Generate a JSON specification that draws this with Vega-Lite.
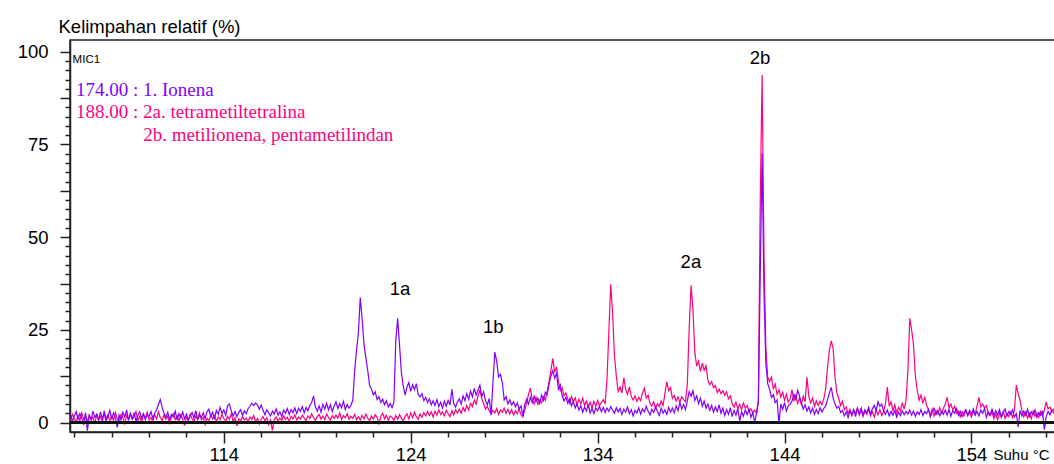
{
"$schema": "https://vega.github.io/schema/vega-lite/v6.json",
"width": 985, "height": 392,
"autosize": {"type": "none"},
"padding": {"left": 70, "top": 40, "right": 0, "bottom": 32},
"background": "white",
"config": {"view": {"stroke": "#222", "strokeWidth": 1.5}, "font": "Liberation Sans"},
"data": {"values": [
{"t":105.8,"p":2.1,"m":0.6},{"t":105.9,"p":0.4,"m":2.3},{"t":106.0,"p":1.8,"m":1.0},{"t":106.1,"p":3.0,"m":0.2},{"t":106.2,"p":0.9,"m":1.9},{"t":106.3,"p":2.4,"m":0.5},{"t":106.4,"p":1.2,"m":2.6},{"t":106.5,"p":-0.6,"m":0.9},{"t":106.6,"p":2.7,"m":1.7},{"t":106.7,"p":-2.2,"m":0.3},{"t":106.8,"p":1.9,"m":2.0},{"t":106.9,"p":0.8,"m":0.7},
{"t":107.0,"p":3.1,"m":1.5},{"t":107.1,"p":1.4,"m":-0.4},{"t":107.2,"p":2.2,"m":2.4},{"t":107.3,"p":0.5,"m":0.8},{"t":107.4,"p":2.9,"m":1.6},{"t":107.5,"p":1.1,"m":0.1},{"t":107.6,"p":2.5,"m":3.2},{"t":107.7,"p":0.3,"m":1.0},{"t":107.8,"p":1.7,"m":2.1},{"t":107.9,"p":3.3,"m":0.4},
{"t":108.0,"p":0.9,"m":1.8},{"t":108.1,"p":2.6,"m":0.6},{"t":108.2,"p":1.3,"m":2.7},{"t":108.3,"p":-1.3,"m":1.1},{"t":108.4,"p":2.0,"m":0.2},{"t":108.5,"p":0.7,"m":2.2},{"t":108.6,"p":2.8,"m":1.4},{"t":108.7,"p":1.5,"m":-0.3},{"t":108.8,"p":3.4,"m":1.9},{"t":108.9,"p":0.6,"m":0.8},
{"t":109.0,"p":2.3,"m":2.5},{"t":109.1,"p":1.0,"m":0.9},{"t":109.2,"p":2.7,"m":1.6},{"t":109.3,"p":0.4,"m":3.0},{"t":109.4,"p":1.9,"m":0.5},{"t":109.5,"p":2.9,"m":1.7},{"t":109.6,"p":1.2,"m":0.1},{"t":109.7,"p":2.4,"m":2.3},{"t":109.8,"p":0.8,"m":1.2},{"t":109.9,"p":2.1,"m":2.8},
{"t":110.0,"p":1.6,"m":0.7},{"t":110.1,"p":3.0,"m":1.4},{"t":110.2,"p":1.1,"m":0.3},{"t":110.3,"p":2.5,"m":2.2},{"t":110.4,"p":3.4,"m":1.0},{"t":110.5,"p":4.8,"m":2.9},{"t":110.6,"p":6.2,"m":1.3},{"t":110.7,"p":4.1,"m":0.6},{"t":110.8,"p":2.6,"m":2.0},{"t":110.9,"p":1.4,"m":0.9},
{"t":111.0,"p":2.8,"m":1.7},{"t":111.1,"p":0.9,"m":-0.2},{"t":111.2,"p":2.2,"m":1.5},{"t":111.3,"p":1.5,"m":2.4},{"t":111.4,"p":3.1,"m":0.8},{"t":111.5,"p":0.7,"m":1.9},{"t":111.6,"p":2.4,"m":0.4},{"t":111.7,"p":1.3,"m":2.1},{"t":111.8,"p":2.9,"m":1.0},{"t":111.9,"p":1.0,"m":-0.8},
{"t":112.0,"p":2.3,"m":1.6},{"t":112.1,"p":0.6,"m":0.5},{"t":112.2,"p":1.8,"m":2.3},{"t":112.3,"p":2.7,"m":1.1},{"t":112.4,"p":1.2,"m":0.2},{"t":112.5,"p":3.2,"m":1.8},{"t":112.6,"p":0.8,"m":0.9},{"t":112.7,"p":2.0,"m":2.6},{"t":112.8,"p":1.4,"m":0.7},{"t":112.9,"p":2.6,"m":1.4},
{"t":113.0,"p":1.1,"m":-0.5},{"t":113.1,"p":2.9,"m":1.2},{"t":113.2,"p":3.6,"m":0.6},{"t":113.3,"p":1.7,"m":2.0},{"t":113.4,"p":2.8,"m":1.0},{"t":113.5,"p":0.9,"m":1.9},{"t":113.6,"p":3.3,"m":0.3},{"t":113.7,"p":2.2,"m":1.5},{"t":113.8,"p":4.1,"m":0.8},{"t":113.9,"p":2.5,"m":2.2},
{"t":114.0,"p":3.4,"m":1.1},{"t":114.1,"p":2.0,"m":0.4},{"t":114.2,"p":4.6,"m":1.7},{"t":114.3,"p":5.0,"m":0.9},{"t":114.4,"p":3.1,"m":2.4},{"t":114.5,"p":1.8,"m":0.2},{"t":114.6,"p":3.0,"m":1.3},{"t":114.7,"p":1.6,"m":-0.9},{"t":114.8,"p":2.7,"m":1.0},{"t":114.9,"p":3.5,"m":0.5},
{"t":115.0,"p":1.9,"m":1.6},{"t":115.1,"p":3.2,"m":0.7},{"t":115.2,"p":2.4,"m":1.2},{"t":115.3,"p":3.8,"m":0.3},{"t":115.4,"p":4.4,"m":1.5},{"t":115.5,"p":5.2,"m":0.8},{"t":115.6,"p":4.6,"m":1.9},{"t":115.7,"p":5.3,"m":0.2},{"t":115.8,"p":4.8,"m":1.1},{"t":115.9,"p":3.6,"m":-0.4},
{"t":116.0,"p":4.7,"m":0.9},{"t":116.1,"p":3.3,"m":1.6},{"t":116.2,"p":2.1,"m":0.5},{"t":116.3,"p":3.5,"m":1.3},{"t":116.4,"p":2.6,"m":-0.6},{"t":116.5,"p":1.8,"m":0.7},{"t":116.6,"p":3.1,"m":-2.1},{"t":116.7,"p":2.3,"m":0.8},{"t":116.8,"p":3.7,"m":1.5},{"t":116.9,"p":2.0,"m":0.4},
{"t":117.0,"p":2.9,"m":1.2},{"t":117.1,"p":1.6,"m":0.6},{"t":117.2,"p":3.4,"m":1.8},{"t":117.3,"p":2.5,"m":0.9},{"t":117.4,"p":3.8,"m":1.4},{"t":117.5,"p":2.2,"m":0.3},{"t":117.6,"p":3.5,"m":1.7},{"t":117.7,"p":2.7,"m":1.0},{"t":117.8,"p":4.0,"m":2.1},{"t":117.9,"p":2.4,"m":0.7},
{"t":118.0,"p":3.9,"m":1.5},{"t":118.1,"p":3.0,"m":0.9},{"t":118.2,"p":4.3,"m":2.0},{"t":118.3,"p":2.6,"m":1.2},{"t":118.4,"p":4.1,"m":0.5},{"t":118.5,"p":3.2,"m":1.8},{"t":118.6,"p":4.6,"m":1.1},{"t":118.7,"p":5.4,"m":2.4},{"t":118.8,"p":7.2,"m":1.3},{"t":118.9,"p":4.2,"m":0.6},
{"t":119.0,"p":3.1,"m":1.6},{"t":119.1,"p":4.5,"m":2.2},{"t":119.2,"p":2.8,"m":0.9},{"t":119.3,"p":4.9,"m":1.7},{"t":119.4,"p":3.6,"m":0.8},{"t":119.5,"p":5.2,"m":2.3},{"t":119.6,"p":3.4,"m":1.4},{"t":119.7,"p":4.8,"m":0.7},{"t":119.8,"p":3.0,"m":1.9},{"t":119.9,"p":4.4,"m":1.1},
{"t":120.0,"p":5.6,"m":2.0},{"t":120.1,"p":3.8,"m":1.2},{"t":120.2,"p":5.1,"m":2.6},{"t":120.3,"p":4.0,"m":0.8},{"t":120.4,"p":5.7,"m":1.9},{"t":120.5,"p":3.5,"m":1.3},{"t":120.6,"p":4.9,"m":2.4},{"t":120.7,"p":3.9,"m":0.9},{"t":120.8,"p":4.6,"m":1.7},{"t":120.9,"p":6.0,"m":1.1},
{"t":121.0,"p":14.0,"m":2.2},{"t":121.1,"p":19.5,"m":0.8},{"t":121.2,"p":24.0,"m":1.6},{"t":121.3,"p":33.7,"m":0.7},{"t":121.4,"p":28.0,"m":1.9},{"t":121.5,"p":21.0,"m":1.0},{"t":121.6,"p":17.5,"m":2.3},{"t":121.7,"p":14.0,"m":1.2},{"t":121.8,"p":10.0,"m":0.5},{"t":121.9,"p":9.0,"m":1.8},
{"t":122.0,"p":7.5,"m":0.9},{"t":122.1,"p":8.3,"m":2.1},{"t":122.2,"p":6.2,"m":1.4},{"t":122.3,"p":7.0,"m":-0.3},{"t":122.4,"p":5.4,"m":1.7},{"t":122.5,"p":6.3,"m":2.5},{"t":122.6,"p":4.8,"m":1.0},{"t":122.7,"p":5.9,"m":2.0},{"t":122.8,"p":4.2,"m":0.6},{"t":122.9,"p":5.1,"m":1.8},
{"t":123.0,"p":4.0,"m":1.4},{"t":123.1,"p":5.5,"m":0.6},{"t":123.2,"p":22.0,"m":1.9},{"t":123.3,"p":28.1,"m":0.9},{"t":123.4,"p":21.0,"m":2.2},{"t":123.5,"p":13.5,"m":1.2},{"t":123.6,"p":9.8,"m":0.4},{"t":123.7,"p":7.4,"m":1.7},{"t":123.8,"p":9.6,"m":2.4},{"t":123.9,"p":10.8,"m":1.0},
{"t":124.0,"p":8.4,"m":2.6},{"t":124.1,"p":10.2,"m":1.3},{"t":124.2,"p":8.9,"m":2.8},{"t":124.3,"p":10.5,"m":1.6},{"t":124.4,"p":7.6,"m":0.9},{"t":124.5,"p":6.9,"m":2.3},{"t":124.6,"p":7.8,"m":1.4},{"t":124.7,"p":5.9,"m":2.7},{"t":124.8,"p":6.8,"m":1.8},{"t":124.9,"p":5.4,"m":3.0},
{"t":125.0,"p":6.4,"m":1.9},{"t":125.1,"p":4.8,"m":2.9},{"t":125.2,"p":5.9,"m":1.5},{"t":125.3,"p":4.6,"m":3.1},{"t":125.4,"p":6.2,"m":2.0},{"t":125.5,"p":4.3,"m":3.4},{"t":125.6,"p":5.5,"m":2.2},{"t":125.7,"p":3.9,"m":2.9},{"t":125.8,"p":5.8,"m":1.8},{"t":125.9,"p":4.4,"m":3.3},
{"t":126.0,"p":6.0,"m":2.4},{"t":126.1,"p":4.7,"m":1.6},{"t":126.2,"p":9.0,"m":3.2},{"t":126.3,"p":5.1,"m":2.1},{"t":126.4,"p":4.2,"m":3.5},{"t":126.5,"p":5.6,"m":2.6},{"t":126.6,"p":6.4,"m":3.6},{"t":126.7,"p":5.0,"m":2.5},{"t":126.8,"p":7.2,"m":4.1},{"t":126.9,"p":5.9,"m":3.0},
{"t":127.0,"p":7.8,"m":4.6},{"t":127.1,"p":6.3,"m":3.4},{"t":127.2,"p":8.5,"m":5.2},{"t":127.3,"p":6.9,"m":4.3},{"t":127.4,"p":9.2,"m":6.1},{"t":127.5,"p":7.4,"m":5.0},{"t":127.6,"p":8.8,"m":7.2},{"t":127.7,"p":10.1,"m":8.9},{"t":127.8,"p":7.0,"m":6.4},{"t":127.9,"p":8.3,"m":5.1},
{"t":128.0,"p":5.9,"m":3.6},{"t":128.1,"p":4.8,"m":4.4},{"t":128.2,"p":6.5,"m":3.1},{"t":128.3,"p":2.0,"m":2.4},{"t":128.4,"p":11.0,"m":3.3},{"t":128.5,"p":19.0,"m":2.6},{"t":128.6,"p":16.5,"m":3.8},{"t":128.7,"p":12.3,"m":2.2},{"t":128.8,"p":13.0,"m":3.4},{"t":128.9,"p":10.8,"m":2.8},
{"t":129.0,"p":6.1,"m":3.9},{"t":129.1,"p":7.0,"m":2.5},{"t":129.2,"p":5.0,"m":3.6},{"t":129.3,"p":6.1,"m":2.3},{"t":129.4,"p":4.7,"m":3.5},{"t":129.5,"p":5.6,"m":2.0},{"t":129.6,"p":4.2,"m":3.2},{"t":129.7,"p":5.3,"m":2.4},{"t":129.8,"p":3.6,"m":3.7},{"t":129.9,"p":4.5,"m":2.1},
{"t":130.0,"p":1.8,"m":1.5},{"t":130.1,"p":4.9,"m":3.4},{"t":130.2,"p":6.3,"m":5.2},{"t":130.3,"p":5.0,"m":7.6},{"t":130.4,"p":6.8,"m":9.3},{"t":130.5,"p":5.4,"m":6.2},{"t":130.6,"p":7.1,"m":5.0},{"t":130.7,"p":5.7,"m":6.8},{"t":130.8,"p":6.6,"m":4.9},{"t":130.9,"p":5.2,"m":6.1},
{"t":131.0,"p":7.4,"m":5.3},{"t":131.1,"p":6.0,"m":7.0},{"t":131.2,"p":8.2,"m":6.0},{"t":131.3,"p":7.5,"m":8.4},{"t":131.4,"p":10.5,"m":11.0},{"t":131.5,"p":12.5,"m":14.0},{"t":131.6,"p":14.0,"m":17.3},{"t":131.7,"p":12.0,"m":13.5},{"t":131.8,"p":13.2,"m":15.0},{"t":131.9,"p":9.0,"m":11.2},
{"t":132.0,"p":10.2,"m":8.6},{"t":132.1,"p":7.3,"m":9.4},{"t":132.2,"p":5.8,"m":7.2},{"t":132.3,"p":6.8,"m":8.0},{"t":132.4,"p":5.2,"m":6.4},{"t":132.5,"p":6.4,"m":5.1},{"t":132.6,"p":4.5,"m":7.0},{"t":132.7,"p":5.7,"m":5.6},{"t":132.8,"p":3.9,"m":6.7},{"t":132.9,"p":5.0,"m":4.8},
{"t":133.0,"p":3.4,"m":6.3},{"t":133.1,"p":4.6,"m":5.0},{"t":133.2,"p":2.8,"m":6.6},{"t":133.3,"p":4.2,"m":4.6},{"t":133.4,"p":3.1,"m":5.8},{"t":133.5,"p":4.9,"m":4.2},{"t":133.6,"p":2.6,"m":5.5},{"t":133.7,"p":3.8,"m":4.0},{"t":133.8,"p":2.4,"m":5.7},{"t":133.9,"p":4.0,"m":4.4},
{"t":134.0,"p":3.2,"m":6.0},{"t":134.1,"p":4.4,"m":4.5},{"t":134.2,"p":2.9,"m":5.4},{"t":134.3,"p":4.1,"m":6.2},{"t":134.4,"p":2.7,"m":5.0},{"t":134.5,"p":3.9,"m":11.5},{"t":134.6,"p":3.0,"m":24.5},{"t":134.7,"p":4.3,"m":37.3},{"t":134.8,"p":3.4,"m":29.5},{"t":134.9,"p":2.5,"m":18.0},
{"t":135.0,"p":4.0,"m":12.6},{"t":135.1,"p":2.9,"m":8.4},{"t":135.2,"p":3.8,"m":9.6},{"t":135.3,"p":2.2,"m":8.0},{"t":135.4,"p":3.6,"m":12.1},{"t":135.5,"p":2.8,"m":8.9},{"t":135.6,"p":4.2,"m":7.6},{"t":135.7,"p":2.4,"m":9.6},{"t":135.8,"p":3.5,"m":7.0},{"t":135.9,"p":1.8,"m":6.1},
{"t":136.0,"p":3.3,"m":7.2},{"t":136.1,"p":2.6,"m":5.7},{"t":136.2,"p":4.0,"m":6.8},{"t":136.3,"p":2.3,"m":5.9},{"t":136.4,"p":3.7,"m":8.0},{"t":136.5,"p":2.9,"m":9.3},{"t":136.6,"p":4.4,"m":6.6},{"t":136.7,"p":3.1,"m":7.4},{"t":136.8,"p":2.0,"m":5.2},{"t":136.9,"p":3.6,"m":4.4},
{"t":137.0,"p":2.7,"m":5.6},{"t":137.1,"p":4.3,"m":3.9},{"t":137.2,"p":3.0,"m":5.1},{"t":137.3,"p":1.9,"m":4.3},{"t":137.4,"p":3.9,"m":5.9},{"t":137.5,"p":2.5,"m":4.6},{"t":137.6,"p":3.4,"m":7.8},{"t":137.7,"p":2.2,"m":11.0},{"t":137.8,"p":4.1,"m":8.6},{"t":137.9,"p":2.8,"m":9.4},
{"t":138.0,"p":3.9,"m":6.5},{"t":138.1,"p":2.6,"m":7.3},{"t":138.2,"p":4.5,"m":5.8},{"t":138.3,"p":3.2,"m":6.9},{"t":138.4,"p":5.4,"m":5.5},{"t":138.5,"p":3.7,"m":7.0},{"t":138.6,"p":4.9,"m":6.2},{"t":138.7,"p":3.5,"m":5.6},{"t":138.8,"p":5.9,"m":10.5},{"t":138.9,"p":8.3,"m":25.8},
{"t":139.0,"p":7.1,"m":37.0},{"t":139.1,"p":8.6,"m":30.5},{"t":139.2,"p":6.0,"m":19.0},{"t":139.3,"p":7.2,"m":15.2},{"t":139.4,"p":5.1,"m":16.6},{"t":139.5,"p":6.6,"m":13.8},{"t":139.6,"p":4.4,"m":16.0},{"t":139.7,"p":5.8,"m":14.1},{"t":139.8,"p":3.9,"m":15.3},{"t":139.9,"p":5.0,"m":11.4},
{"t":140.0,"p":3.3,"m":10.2},{"t":140.1,"p":4.6,"m":11.0},{"t":140.2,"p":2.8,"m":9.4},{"t":140.3,"p":4.2,"m":10.0},{"t":140.4,"p":3.0,"m":8.1},{"t":140.5,"p":4.8,"m":9.0},{"t":140.6,"p":2.5,"m":7.8},{"t":140.7,"p":3.9,"m":8.6},{"t":140.8,"p":1.9,"m":7.4},{"t":140.9,"p":3.5,"m":8.3},
{"t":141.0,"p":2.2,"m":6.4},{"t":141.1,"p":4.0,"m":7.2},{"t":141.2,"p":1.6,"m":5.1},{"t":141.3,"p":3.3,"m":4.2},{"t":141.4,"p":2.0,"m":5.5},{"t":141.5,"p":3.8,"m":3.8},{"t":141.6,"p":0.4,"m":4.9},{"t":141.7,"p":2.9,"m":3.5},{"t":141.8,"p":1.7,"m":5.3},{"t":141.9,"p":3.4,"m":3.9},
{"t":142.0,"p":2.1,"m":4.6},{"t":142.1,"p":3.6,"m":3.0},{"t":142.2,"p":1.4,"m":3.7},{"t":142.3,"p":2.7,"m":2.6},{"t":142.4,"p":0.1,"m":3.4},{"t":142.5,"p":2.5,"m":2.5},{"t":142.6,"p":5.5,"m":6.0},{"t":142.7,"p":40.0,"m":60.0},{"t":142.8,"p":72.6,"m":93.7},{"t":142.9,"p":35.0,"m":45.0},
{"t":143.0,"p":16.0,"m":20.0},{"t":143.1,"p":10.5,"m":12.3},{"t":143.2,"p":9.0,"m":11.0},{"t":143.3,"p":6.8,"m":12.3},{"t":143.4,"p":7.5,"m":9.0},{"t":143.5,"p":5.4,"m":10.4},{"t":143.6,"p":6.1,"m":7.6},{"t":143.7,"p":-0.2,"m":8.8},{"t":143.8,"p":5.0,"m":6.9},{"t":143.9,"p":3.6,"m":8.2},
{"t":144.0,"p":5.4,"m":6.0},{"t":144.1,"p":3.1,"m":7.7},{"t":144.2,"p":4.6,"m":5.5},{"t":144.3,"p":4.9,"m":6.4},{"t":144.4,"p":5.8,"m":8.9},{"t":144.5,"p":7.6,"m":5.8},{"t":144.6,"p":6.3,"m":7.3},{"t":144.7,"p":8.7,"m":5.2},{"t":144.8,"p":7.2,"m":6.6},{"t":144.9,"p":5.3,"m":4.9},
{"t":145.0,"p":3.6,"m":7.1},{"t":145.1,"p":4.8,"m":5.6},{"t":145.2,"p":3.1,"m":12.2},{"t":145.3,"p":4.2,"m":7.0},{"t":145.4,"p":2.6,"m":5.3},{"t":145.5,"p":3.9,"m":6.6},{"t":145.6,"p":2.2,"m":4.4},{"t":145.7,"p":3.5,"m":5.9},{"t":145.8,"p":2.4,"m":4.6},{"t":145.9,"p":4.0,"m":5.7},
{"t":146.0,"p":2.9,"m":4.8},{"t":146.1,"p":3.8,"m":6.4},{"t":146.2,"p":4.5,"m":9.0},{"t":146.3,"p":6.2,"m":15.0},{"t":146.4,"p":8.0,"m":19.5},{"t":146.5,"p":9.5,"m":22.0},{"t":146.6,"p":6.6,"m":20.0},{"t":146.7,"p":5.0,"m":12.3},{"t":146.8,"p":3.9,"m":8.0},{"t":146.9,"p":4.4,"m":6.5},
{"t":147.0,"p":2.7,"m":4.6},{"t":147.1,"p":3.3,"m":5.8},{"t":147.2,"p":1.8,"m":3.5},{"t":147.3,"p":2.9,"m":4.2},{"t":147.4,"p":1.4,"m":2.4},{"t":147.5,"p":3.1,"m":3.6},{"t":147.6,"p":2.2,"m":1.9},{"t":147.7,"p":3.6,"m":3.2},{"t":147.8,"p":1.6,"m":2.5},{"t":147.9,"p":3.8,"m":3.9},
{"t":148.0,"p":2.4,"m":2.0},{"t":148.1,"p":3.9,"m":3.4},{"t":148.2,"p":2.1,"m":1.6},{"t":148.3,"p":3.5,"m":3.0},{"t":148.4,"p":2.6,"m":2.2},{"t":148.5,"p":4.1,"m":3.7},{"t":148.6,"p":2.3,"m":1.8},{"t":148.7,"p":3.7,"m":2.9},{"t":148.8,"p":4.6,"m":1.5},{"t":148.9,"p":3.2,"m":3.3},
{"t":149.0,"p":5.6,"m":2.1},{"t":149.1,"p":4.4,"m":3.5},{"t":149.2,"p":5.0,"m":1.9},{"t":149.3,"p":3.1,"m":3.0},{"t":149.4,"p":2.2,"m":5.2},{"t":149.5,"p":3.4,"m":9.6},{"t":149.6,"p":1.8,"m":4.4},{"t":149.7,"p":3.0,"m":5.6},{"t":149.8,"p":2.0,"m":3.2},{"t":149.9,"p":3.3,"m":4.8},
{"t":150.0,"p":1.5,"m":2.6},{"t":150.1,"p":2.8,"m":4.1},{"t":150.2,"p":1.9,"m":3.0},{"t":150.3,"p":3.2,"m":5.4},{"t":150.4,"p":2.1,"m":3.6},{"t":150.5,"p":3.0,"m":6.0},{"t":150.6,"p":2.3,"m":14.0},{"t":150.7,"p":3.4,"m":28.1},{"t":150.8,"p":2.0,"m":25.0},{"t":150.9,"p":3.1,"m":21.0},
{"t":151.0,"p":1.7,"m":12.5},{"t":151.1,"p":2.9,"m":8.7},{"t":151.2,"p":2.2,"m":6.0},{"t":151.3,"p":3.5,"m":7.4},{"t":151.4,"p":1.9,"m":5.2},{"t":151.5,"p":3.0,"m":7.0},{"t":151.6,"p":2.4,"m":4.6},{"t":151.7,"p":3.6,"m":3.5},{"t":151.8,"p":1.5,"m":2.0},{"t":151.9,"p":2.8,"m":3.7},
{"t":152.0,"p":3.9,"m":1.8},{"t":152.1,"p":2.1,"m":3.2},{"t":152.2,"p":3.3,"m":2.3},{"t":152.3,"p":1.8,"m":4.0},{"t":152.4,"p":3.0,"m":2.6},{"t":152.5,"p":2.2,"m":3.8},{"t":152.6,"p":3.4,"m":5.0},{"t":152.7,"p":2.0,"m":6.8},{"t":152.8,"p":3.6,"m":4.0},{"t":152.9,"p":1.7,"m":5.0},
{"t":153.0,"p":3.2,"m":3.4},{"t":153.1,"p":2.5,"m":4.4},{"t":153.2,"p":3.8,"m":2.5},{"t":153.3,"p":2.0,"m":3.1},{"t":153.4,"p":3.1,"m":1.6},{"t":153.5,"p":1.6,"m":2.9},{"t":153.6,"p":2.7,"m":1.8},{"t":153.7,"p":3.5,"m":3.3},{"t":153.8,"p":1.9,"m":2.0},{"t":153.9,"p":3.3,"m":2.7},
{"t":154.0,"p":2.4,"m":1.5},{"t":154.1,"p":3.7,"m":3.0},{"t":154.2,"p":2.0,"m":2.2},{"t":154.3,"p":3.0,"m":4.5},{"t":154.4,"p":1.8,"m":6.8},{"t":154.5,"p":3.4,"m":4.2},{"t":154.6,"p":2.5,"m":5.0},{"t":154.7,"p":3.8,"m":3.9},{"t":154.8,"p":1.4,"m":4.6},{"t":154.9,"p":2.9,"m":2.4},
{"t":155.0,"p":2.1,"m":1.8},{"t":155.1,"p":3.6,"m":2.9},{"t":155.2,"p":1.9,"m":1.0},{"t":155.3,"p":3.2,"m":2.3},{"t":155.4,"p":2.0,"m":0.8},{"t":155.5,"p":3.5,"m":2.6},{"t":155.6,"p":1.6,"m":1.4},{"t":155.7,"p":2.8,"m":3.0},{"t":155.8,"p":3.7,"m":1.1},{"t":155.9,"p":1.8,"m":2.4},
{"t":156.0,"p":3.0,"m":1.6},{"t":156.1,"p":2.2,"m":2.9},{"t":156.2,"p":3.4,"m":1.3},{"t":156.3,"p":1.5,"m":3.5},{"t":156.4,"p":2.4,"m":10.1},{"t":156.5,"p":-1.2,"m":7.8},{"t":156.6,"p":3.3,"m":6.0},{"t":156.7,"p":1.8,"m":3.2},{"t":156.8,"p":3.1,"m":1.5},{"t":156.9,"p":2.0,"m":2.8},
{"t":157.0,"p":3.6,"m":1.2},{"t":157.1,"p":1.7,"m":2.5},{"t":157.2,"p":2.9,"m":1.0},{"t":157.3,"p":2.2,"m":3.1},{"t":157.4,"p":3.4,"m":1.7},{"t":157.5,"p":1.4,"m":2.6},{"t":157.6,"p":2.7,"m":1.4},{"t":157.7,"p":2.0,"m":3.0},{"t":157.8,"p":3.2,"m":1.8},{"t":157.9,"p":-1.9,"m":3.4},
{"t":158.0,"p":1.6,"m":5.6},{"t":158.1,"p":3.0,"m":3.7},{"t":158.2,"p":2.1,"m":4.2},{"t":158.3,"p":3.5,"m":2.9},{"t":158.4,"p":2.6,"m":3.6},{"t":158.5,"p":3.0,"m":2.2}
]},
"layer": [
{"mark": {"type": "line", "color": "#FF0080", "strokeWidth": 1.2, "clip": true},
 "encoding": {
  "x": {"field": "t", "type": "quantitative", "title": "Suhu °C",
   "scale": {"domain": [105.77, 158.47], "nice": false, "zero": false},
   "axis": {"values": [106,108,110,112,114,116,118,120,122,124,126,128,130,132,134,136,138,140,142,144,146,148,150,152,154,156,158],
    "tickCount": 200, "format": "d",
    "labelExpr": "(datum.value - 4) % 10 === 0 ? datum.label : ''",
    "tickSize": {"condition": {"test": "(datum.value - 4) % 10 === 0", "value": 11}, "value": 5},
    "labelFontSize": 18.5, "labelFont": "Liberation Sans", "labelColor": "#000", "labelPadding": 2,
    "labelFlush": false, "labelOverlap": false, "labelBound": false,
    "tickColor": "#222", "tickWidth": 1.5, "domainColor": "#222", "domainWidth": 1.5, "grid": false,
    "titleX": 923, "titleY": 22, "titleAlign": "left", "titleBaseline": "middle", "titleAnchor": "start",
    "titleFontSize": 15, "titleFont": "Liberation Sans", "titleFontWeight": "normal", "titleColor": "#000"}},
  "y": {"field": "m", "type": "quantitative", "title": "Kelimpahan relatif (%)",
   "scale": {"domain": [-2.54, 103.16], "nice": false, "zero": false},
   "axis": {"values": [0,2.5,5,7.5,10,12.5,15,17.5,20,22.5,25,27.5,30,32.5,35,37.5,40,42.5,45,47.5,50,52.5,55,57.5,60,62.5,65,67.5,70,72.5,75,77.5,80,82.5,85,87.5,90,92.5,95,97.5,100],
    "tickCount": 200, "format": "d",
    "labelExpr": "datum.value % 25 === 0 ? datum.label : ''",
    "tickSize": {"condition": {"test": "datum.value % 12.5 === 0", "value": 10}, "value": 5},
    "labelFontSize": 18.5, "labelFont": "Liberation Sans", "labelColor": "#000", "labelPadding": 12,
    "labelFlush": false, "labelOverlap": false, "labelBound": false,
    "tickColor": "#222", "tickWidth": 1.5, "domainColor": "#222", "domainWidth": 1.5, "grid": false,
    "titleAngle": 0, "titleX": -12, "titleY": -14, "titleAlign": "left", "titleBaseline": "middle", "titleAnchor": "start",
    "titleFontSize": 18.5, "titleFont": "Liberation Sans", "titleFontWeight": "normal", "titleColor": "#000"}}
 }},
{"mark": {"type": "line", "color": "#8000FF", "strokeWidth": 1.2, "clip": true},
 "encoding": {
  "x": {"field": "t", "type": "quantitative", "title": "Suhu °C"},
  "y": {"field": "p", "type": "quantitative", "title": "Kelimpahan relatif (%)"}
 }},
{"mark": {"type": "rule", "color": "#111", "strokeWidth": 1.5},
 "encoding": {"y": {"datum": 0}}},
{"data": {"values": [
  {"t": 123.43, "y": 35.9, "label": "1a"},
  {"t": 128.42, "y": 25.85, "label": "1b"},
  {"t": 138.99, "y": 43.3, "label": "2a"},
  {"t": 142.69, "y": 98.2, "label": "2b"}
 ]},
 "mark": {"type": "text", "font": "Liberation Sans", "fontSize": 18.5, "align": "center", "baseline": "middle", "color": "#000"},
 "encoding": {
  "x": {"field": "t", "type": "quantitative", "title": "Suhu °C"},
  "y": {"field": "y", "type": "quantitative", "title": "Kelimpahan relatif (%)"},
  "text": {"field": "label"}
 }},
{"data": {"values": [
  {"t": 106.09, "y": 88.14, "label": "174.00 : 1. Ionena", "c": "ion"},
  {"t": 106.09, "y": 82.05, "label": "188.00 : 2a. tetrametiltetralina", "c": "mag"},
  {"t": 109.69, "y": 76.0, "label": "2b. metilionena, pentametilindan", "c": "mag"}
 ]},
 "mark": {"type": "text", "font": "Liberation Serif", "fontSize": 19, "align": "left", "baseline": "alphabetic"},
 "encoding": {
  "x": {"field": "t", "type": "quantitative", "title": "Suhu °C"},
  "y": {"field": "y", "type": "quantitative", "title": "Kelimpahan relatif (%)"},
  "text": {"field": "label"},
  "color": {"field": "c", "type": "nominal", "scale": {"domain": ["ion", "mag"], "range": ["#8000FF", "#FF0080"]}, "legend": null}
 }},
{"data": {"values": [{"t": 105.91, "y": 97.68, "label": "MIC1"}]},
 "mark": {"type": "text", "font": "Liberation Sans", "fontSize": 11.5, "align": "left", "baseline": "middle", "color": "#000"},
 "encoding": {
  "x": {"field": "t", "type": "quantitative", "title": "Suhu °C"},
  "y": {"field": "y", "type": "quantitative", "title": "Kelimpahan relatif (%)"},
  "text": {"field": "label"}
 }}
]
}
